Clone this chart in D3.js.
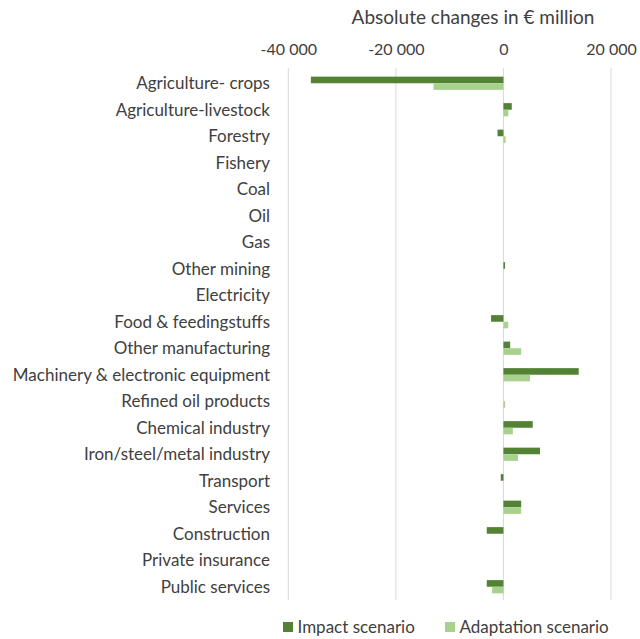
<!DOCTYPE html>
<html>
<head>
<meta charset="utf-8">
<script src="https://cdn.jsdelivr.net/npm/d3@7"></script>
<style>
  html, body { margin: 0; padding: 0; background: #fff; }
  svg { display: block; font-family: Lato, "Open Sans", sans-serif; }
</style>
</head>
<body>
<svg id="chart" width="640" height="639"></svg>
<script>
// Sectors, top to bottom
const sectors = [
  "Agriculture- crops", "Agriculture-livestock", "Forestry", "Fishery", "Coal",
  "Oil", "Gas", "Other mining", "Electricity", "Food & feedingstuffs",
  "Other manufacturing", "Machinery & electronic equipment", "Refined oil products",
  "Chemical industry", "Iron/steel/metal industry", "Transport", "Services",
  "Construction", "Private insurance", "Public services"
];
// Absolute changes in € million
const impactValues = [
  -35800, 1550, -1100, 0, 0,
  0, 0, 300, 0, -2300,
  1250, 14000, 0,
  5450, 6800, -500, 3300,
  -3100, 0, -3100
];
const adaptationValues = [
  -13000, 900, 400, 0, 0,
  0, 0, 0, 0, 900,
  3300, 4950, 300,
  1750, 2700, 0, 3300,
  0, 0, -2100
];
const seriesNames = ["Impact scenario", "Adaptation scenario"];
const seriesColors = ["#548235", "#a9d18e"];
const tickValues = [-40000, -20000, 0, 20000];

const svg = d3.select("#chart");
const x = d3.scaleLinear().domain([-40000, 20000]).range([288.3, 611]);
const y = d3.scaleBand().domain(sectors).range([70, 600]).paddingInner(0.5).paddingOuter(0.25);
const sub = d3.scaleBand().domain([0, 1]).range([0, y.bandwidth()]);

const rows = sectors.map((s, i) => ({ sector: s, values: [impactValues[i], adaptationValues[i]] }));

// Thousands grouped with a space, plain hyphen for negatives
const fmt = d => {
  const s = String(Math.abs(d)).replace(/\B(?=(\d{3})+(?!\d))/g, " ");
  return (d < 0 ? "-" : "") + s;
};

// Vertical gridlines
svg.append("g").selectAll("line").data(tickValues).join("line")
  .attr("x1", d => x(d)).attr("x2", d => x(d))
  .attr("y1", 68).attr("y2", 600)
  .attr("stroke", "#d9d9d9").attr("stroke-width", 1);

// Top axis tick labels
const axis = d3.axisTop(x).tickValues(tickValues).tickSize(0).tickPadding(0).tickFormat(fmt);
const ga = svg.append("g").attr("transform", "translate(0,55)").call(axis);
ga.select(".domain").remove();
ga.selectAll("text").attr("font-size", 16).attr("fill", "#404040")
  .attr("font-family", "Lato, sans-serif").style("white-space", "pre");

// Axis title
svg.append("text").attr("x", 473).attr("y", 24).attr("text-anchor", "middle")
  .attr("font-size", 19).attr("fill", "#404040").text("Absolute changes in € million");

// Category labels
svg.append("g").selectAll("text").data(sectors).join("text")
  .attr("x", 270).attr("y", d => y(d) + y.bandwidth() / 2)
  .attr("dy", "0.35em").attr("text-anchor", "end")
  .attr("font-size", 17).attr("fill", "#404040").text(d => d);

// Bars
const groups = svg.append("g").selectAll("g").data(rows).join("g")
  .attr("transform", d => `translate(0,${y(d.sector)})`);
groups.selectAll("rect").data(d => d.values.map((v, k) => ({ v, k })).filter(e => e.v !== 0)).join("rect")
  .attr("x", e => x(Math.min(0, e.v)))
  .attr("width", e => Math.abs(x(e.v) - x(0)))
  .attr("y", e => sub(e.k))
  .attr("height", sub.bandwidth())
  .attr("fill", e => seriesColors[e.k]);

// Legend
const legendX = [283, 445];
const lg = svg.append("g").selectAll("g").data(seriesNames).join("g")
  .attr("transform", (d, i) => `translate(${legendX[i]},622)`);
lg.append("rect").attr("width", 10).attr("height", 10).attr("fill", (d, i) => seriesColors[i]);
lg.append("text").attr("x", 14.5).attr("y", 5).attr("dy", "0.35em")
  .attr("font-size", 17).attr("fill", "#404040").text(d => d);
</script>
</body>
</html>
